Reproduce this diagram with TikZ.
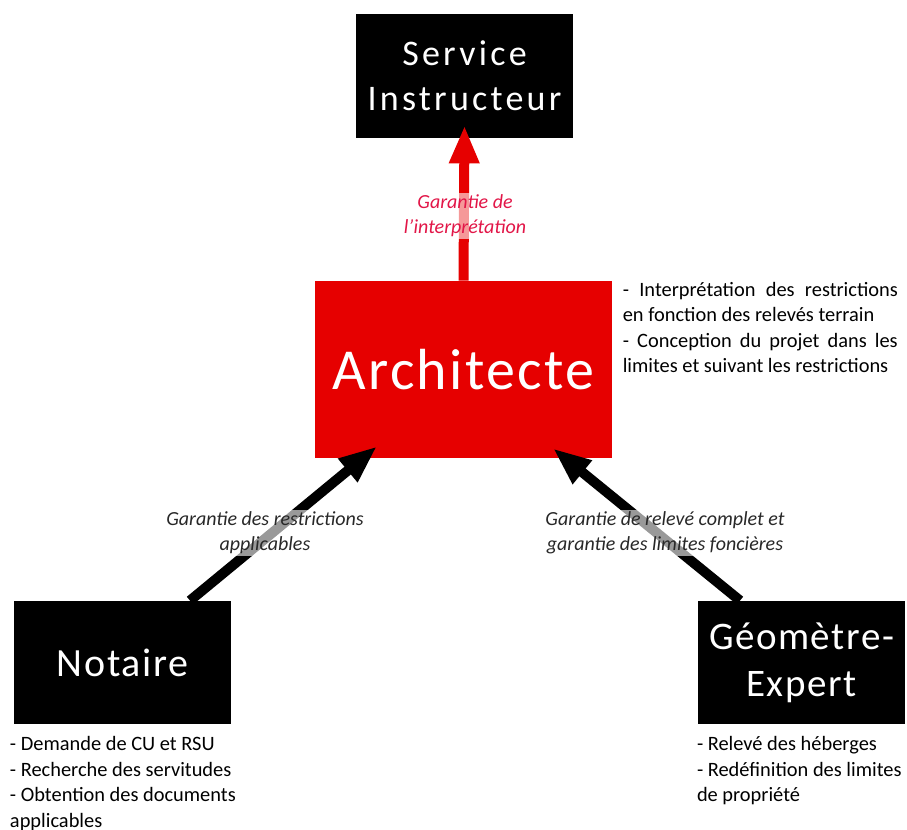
\documentclass[tikz,border=0pt]{standalone}
\usepackage{fontspec}
\setmainfont{Carlito}
\newfontfamily\spaced[LetterSpace=4]{Carlito}
\newfontfamily\wide[LetterSpace=9]{Carlito}
\usetikzlibrary{arrows.meta}
\definecolor{boxred}{RGB}{230,0,0}
\definecolor{labred}{RGB}{226,22,72}
\definecolor{labgray}{RGB}{40,40,40}
\tikzset{
  blackbox/.style={draw=none, fill=black, text=white, align=center, inner sep=0pt},
  redbox/.style={draw=none, fill=boxred, text=white, align=center, inner sep=0pt},
  flow/.style={line width=5pt, -{Triangle[width=14pt,length=19pt]}},
  lab/.style={fill=white, fill opacity=0.6, text opacity=1, align=center, inner sep=1pt,
    font=\fontsize{10pt}{12.5pt}\selectfont\itshape},
  notes/.style={inner sep=0pt, anchor=north west, align=left, font=\fontsize{10.2pt}{12.75pt}\selectfont}
}
\begin{document}
\begin{tikzpicture}[x=0.5pt,y=-0.5pt]
\path[use as bounding box] (0,0) rectangle (907,830);
\node[blackbox, minimum width=108.5pt, minimum height=62pt,
  font=\wide\fontsize{18pt}{22.5pt}\selectfont] (serv) at (464.5,76) {Service\\Instructeur};
\node[redbox, minimum width=148.5pt, minimum height=88.5pt,
  font=\spaced\fontsize{29pt}{30pt}\selectfont] (arch) at (463.5,369.5) {Architecte};
\node[blackbox, minimum width=108.5pt, minimum height=61.5pt,
  font=\spaced\fontsize{20pt}{24pt}\selectfont] (not) at (122.5,662.5) {Notaire};
\node[blackbox, minimum width=103.5pt, minimum height=61.5pt,
  font=\spaced\fontsize{19.5pt}{23.5pt}\selectfont] (geo) at (801.5,662.5) {Géomètre-\\Expert};

\coordinate (redtip) at ([yshift=6.5pt]serv.south);
\coordinate (ltip) at ([shift={(-43.25pt,6pt)}]arch.south);
\coordinate (lstart) at ([xshift=33.75pt]not.north);
\coordinate (rtip) at ([shift={(44.75pt,5pt)}]arch.south);
\coordinate (rstart) at ([xshift=-30.75pt]geo.north);

\draw[flow, boxred] (arch.north) -- (redtip);
\draw[flow, black] (lstart) -- (ltip);
\draw[flow, black] (rstart) -- (rtip);

\node[lab, text=labred] (l1) at (465,216) {Garantie de\\l'interprétation};
\node[lab, text=labgray] (l2) at (265,533) {Garantie des restrictions\\applicables};
\node[lab, text=labgray] (l3) at (665,533) {Garantie de relevé complet et\\garantie des limites foncières};

\node[notes] (n1) at ([shift={(5pt,-0.5pt)}]arch.north east) {%
\makebox[137.5pt][s]{- Interprétation des restrictions}\\
en fonction des relevés terrain\\
\makebox[137.5pt][s]{- Conception du projet dans les}\\
limites et suivant les restrictions};
\node[notes] (n2) at ([shift={(-2pt,-6pt)}]not.south west) {%
- Demande de CU et RSU\\
- Recherche des servitudes\\
- Obtention des documents\\
applicables};
\node[notes] (n3) at ([shift={(-0.5pt,-6pt)}]geo.south west) {%
- Relevé des héberges\\
- Redéfinition des limites\\
de propriété};
\end{tikzpicture}
\end{document}
